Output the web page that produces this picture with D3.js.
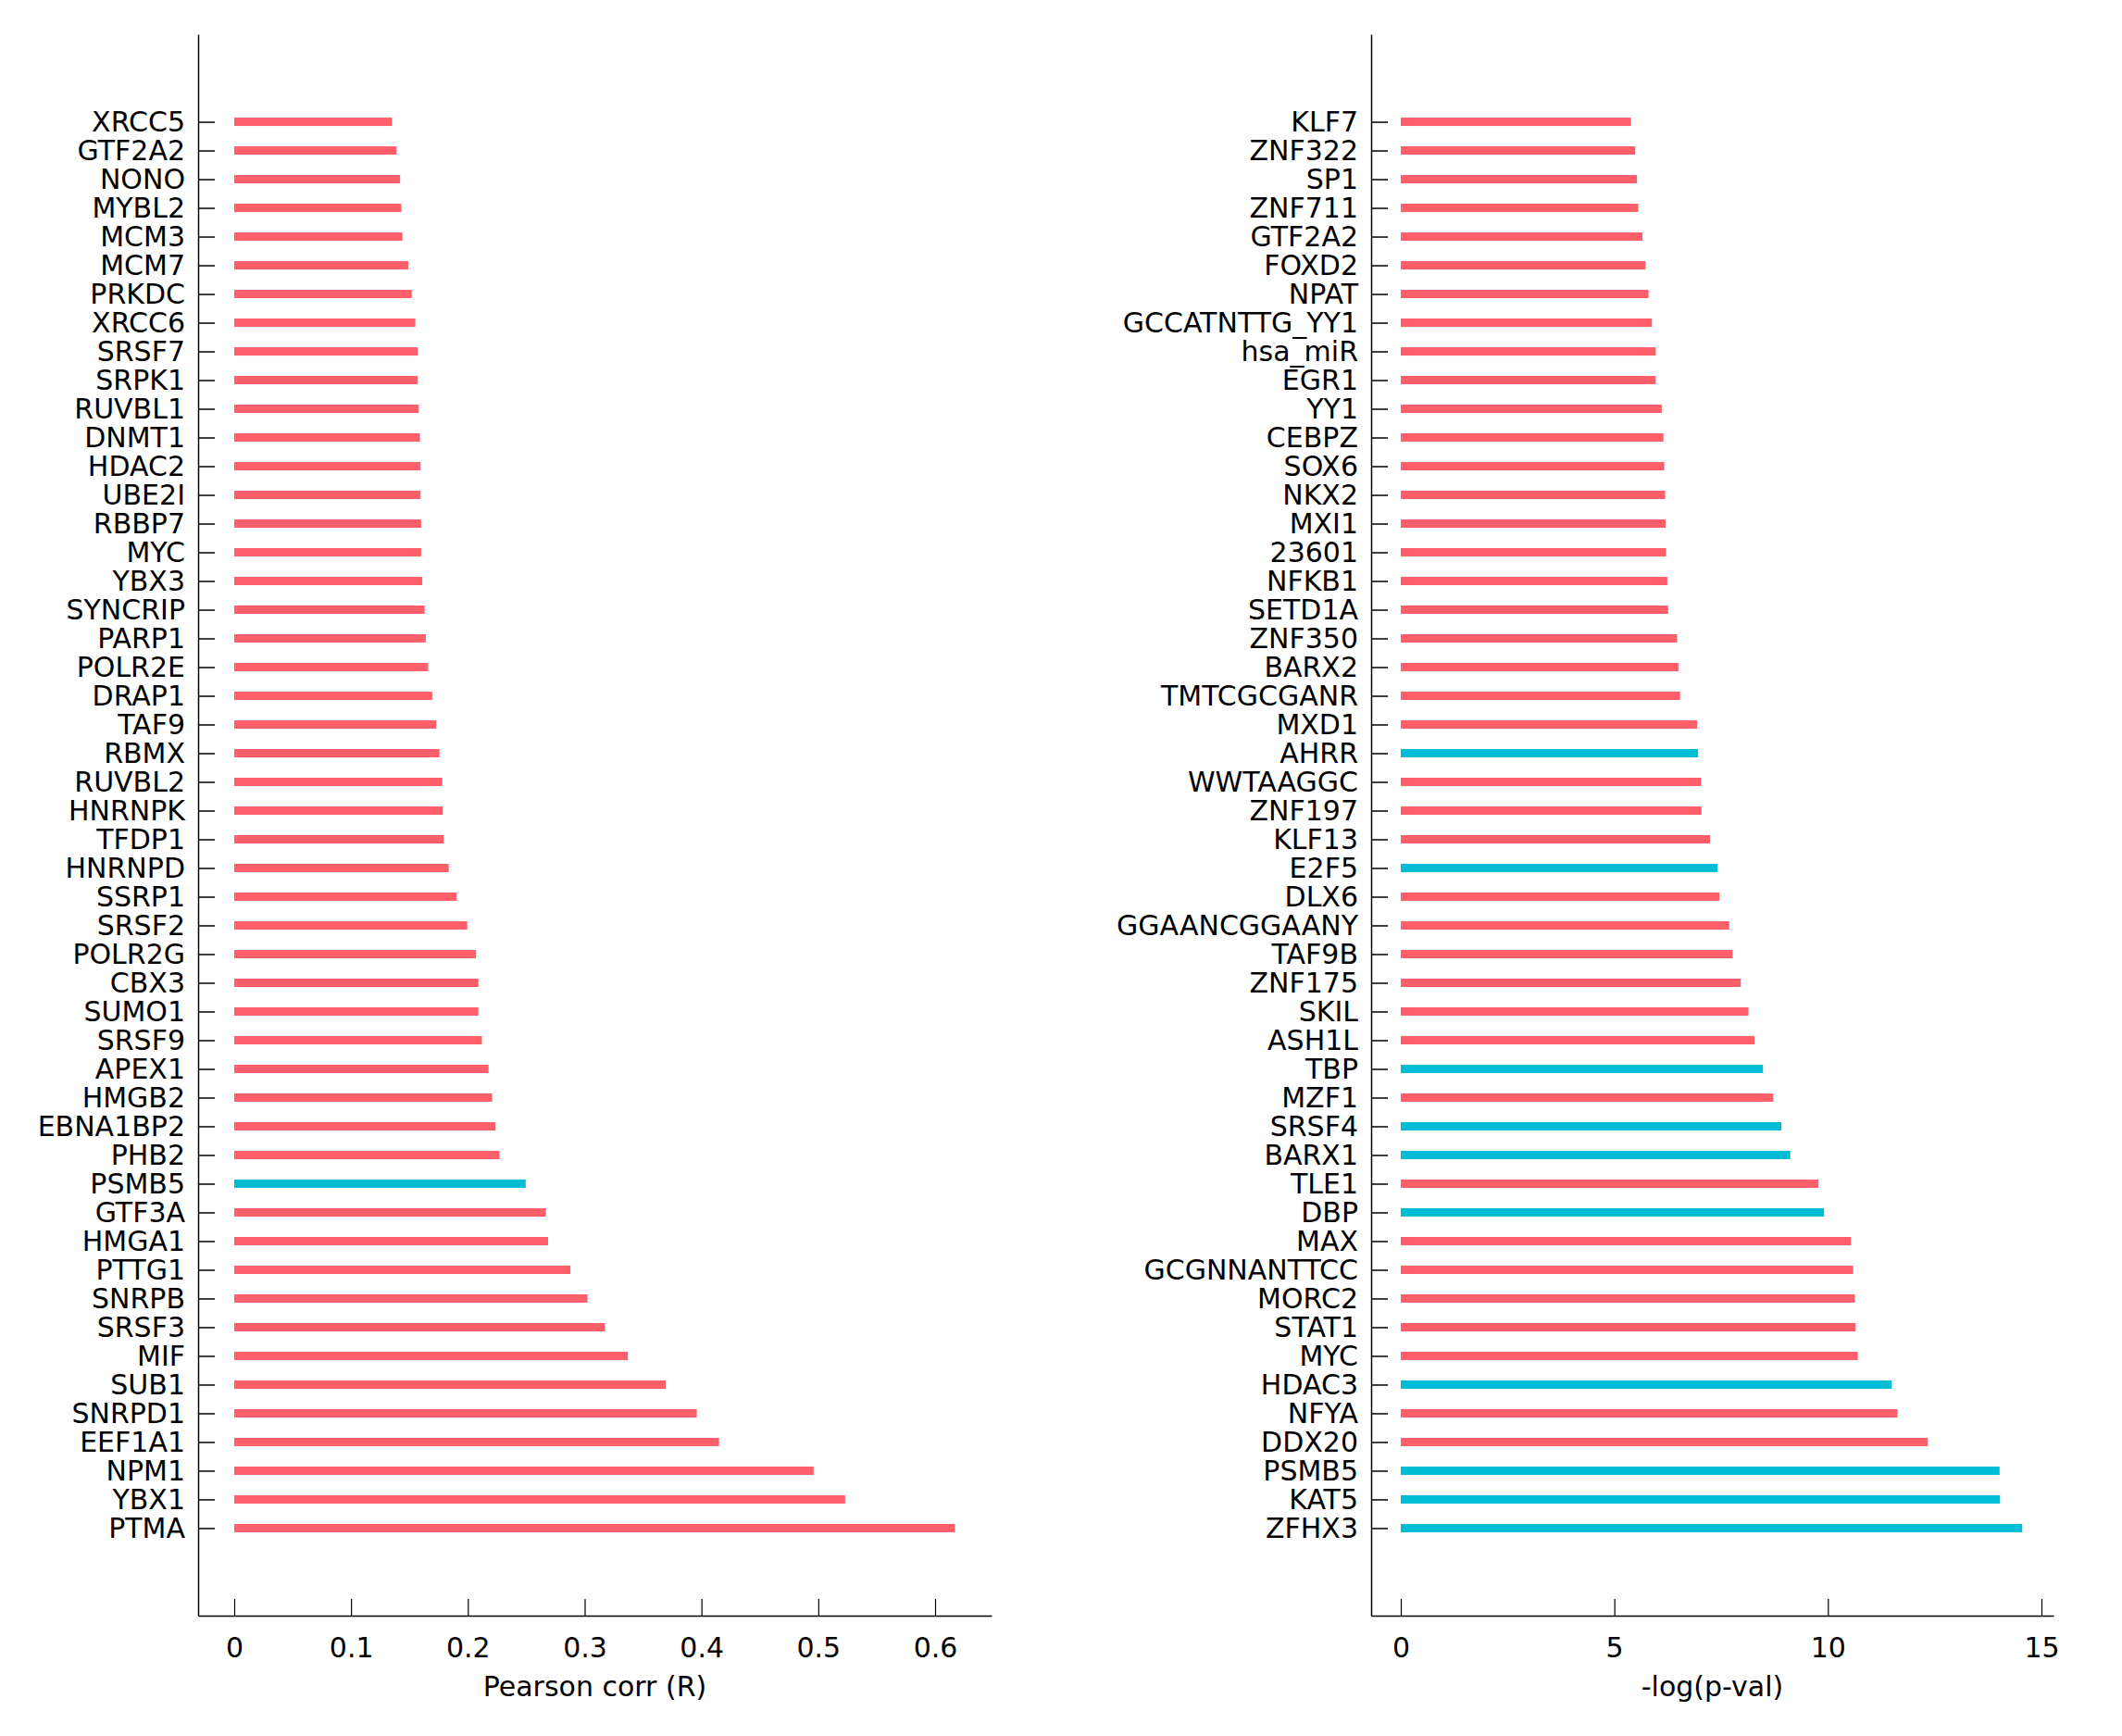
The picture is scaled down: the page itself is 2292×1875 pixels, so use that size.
<!DOCTYPE html>
<html>
<head>
<meta charset="utf-8">
<script src="https://cdn.jsdelivr.net/npm/d3@7"></script>
<style>
  html, body { margin: 0; padding: 0; background: #fff; }
  svg { display: block; }
  text { font-family: "DejaVu Sans", sans-serif; fill: #000; }
</style>
</head>
<body>
<script>
// ---------- DATA ----------
const leftLabels = ["XRCC5","GTF2A2","NONO","MYBL2","MCM3","MCM7","PRKDC","XRCC6","SRSF7","SRPK1",
  "RUVBL1","DNMT1","HDAC2","UBE2I","RBBP7","MYC","YBX3","SYNCRIP","PARP1","POLR2E",
  "DRAP1","TAF9","RBMX","RUVBL2","HNRNPK","TFDP1","HNRNPD","SSRP1","SRSF2","POLR2G",
  "CBX3","SUMO1","SRSF9","APEX1","HMGB2","EBNA1BP2","PHB2","PSMB5","GTF3A","HMGA1",
  "PTTG1","SNRPB","SRSF3","MIF","SUB1","SNRPD1","EEF1A1","NPM1","YBX1","PTMA"];
const leftValues = [0.135,0.139,0.142,0.143,0.144,0.149,0.152,0.155,0.157,0.157,
  0.158,0.159,0.1595,0.1595,0.160,0.160,0.161,0.163,0.164,0.166,
  0.1695,0.173,0.1757,0.178,0.1786,0.1794,0.1836,0.1905,0.1995,0.207,
  0.209,0.209,0.212,0.2177,0.2208,0.2236,0.2272,0.2495,0.2668,0.2687,
  0.2878,0.3024,0.3174,0.337,0.3694,0.396,0.415,0.496,0.523,0.617];
const leftGroups = ["r","r","r","r","r","r","r","r","r","r",
  "r","r","r","r","r","r","r","r","r","r",
  "r","r","r","r","r","r","r","r","r","r",
  "r","r","r","r","r","r","r","c","r","r",
  "r","r","r","r","r","r","r","r","r","r"];

const rightLabels = ["KLF7","ZNF322","SP1","ZNF711","GTF2A2","FOXD2","NPAT","GCCATNTTG_YY1","hsa_miR","EGR1",
  "YY1","CEBPZ","SOX6","NKX2","MXI1","23601","NFKB1","SETD1A","ZNF350","BARX2",
  "TMTCGCGANR","MXD1","AHRR","WWTAAGGC","ZNF197","KLF13","E2F5","DLX6","GGAANCGGAANY","TAF9B",
  "ZNF175","SKIL","ASH1L","TBP","MZF1","SRSF4","BARX1","TLE1","DBP","MAX",
  "GCGNNANTTCC","MORC2","STAT1","MYC","HDAC3","NFYA","DDX20","PSMB5","KAT5","ZFHX3"];
const rightValues = [5.39,5.49,5.53,5.56,5.66,5.73,5.80,5.88,5.97,5.97,
  6.11,6.15,6.17,6.19,6.20,6.21,6.24,6.26,6.47,6.50,
  6.54,6.94,6.96,7.03,7.04,7.24,7.42,7.46,7.69,7.77,
  7.96,8.14,8.28,8.48,8.72,8.91,9.12,9.78,9.91,10.54,
  10.59,10.63,10.65,10.70,11.49,11.63,12.34,14.02,14.03,14.55];
const rightGroups = ["r","r","r","r","r","r","r","r","r","r",
  "r","r","r","r","r","r","r","r","r","r",
  "r","r","c","r","r","r","c","r","r","r",
  "r","r","r","c","r","c","c","r","c","r",
  "r","r","r","r","c","r","r","c","c","c"];

const leftTicks = [0, 0.1, 0.2, 0.3, 0.4, 0.5, 0.6];
const leftTickLabels = ["0","0.1","0.2","0.3","0.4","0.5","0.6"];
const rightTicks = [0, 5, 10, 15];
const rightTickLabels = ["0","5","10","15"];

const leftTitle = "Pearson corr (R)";
const rightTitle = "-log(p-val)";

// ---------- STYLE / LAYOUT ----------
const W = 2292, H = 1875;
const colors = { r: "#FF5E6B", c: "#00BCD5" };
const FONT = 30;
const yTop = 37, yBottom = 1745;

const svg = d3.select("body").append("svg")
  .attr("width", W).attr("height", H);

function panel(cfg) {
  const n = cfg.labels.length;
  // y: index-based linear scale with 3 units of padding above/below
  const y = d3.scaleLinear().domain([-3.05, n + 2.05]).range([yTop, yBottom]);
  // x: anchor two tick positions, then extend domain to axis ends
  const x0 = d3.scaleLinear().domain([cfg.t0, cfg.t1]).range([cfg.p0, cfg.p1]);
  const x = d3.scaleLinear().domain([x0.invert(cfg.axL), x0.invert(cfg.axR)]).range([cfg.axL, cfg.axR]);

  const g = svg.append("g");

  // bars
  g.selectAll("rect.bar").data(cfg.values).join("rect")
    .attr("class", "bar")
    .attr("x", x(0))
    .attr("y", (d, i) => y(i) - 4.5)
    .attr("width", d => x(d) - x(0))
    .attr("height", 9)
    .attr("fill", (d, i) => colors[cfg.groups[i]]);

  // y axis
  const yAxis = d3.axisLeft(y)
    .tickValues(d3.range(n))
    .tickFormat(i => cfg.labels[i])
    .tickSizeInner(-18).tickSizeOuter(0).tickPadding(14);
  const ya = g.append("g").attr("transform", `translate(${cfg.axL},0)`).call(yAxis);
  ya.selectAll("text").style("font-size", FONT + "px").style("font-family", "DejaVu Sans");
  ya.selectAll("line").attr("stroke", "#000").attr("stroke-width", 1.5);
  ya.select(".domain").attr("stroke", "#000").attr("stroke-width", 1.5);

  // x axis
  const xAxis = d3.axisBottom(x)
    .tickValues(cfg.ticks)
    .tickFormat((d, i) => cfg.tickLabels[i])
    .tickSizeInner(-18).tickSizeOuter(0).tickPadding(24);
  const xa = g.append("g").attr("transform", `translate(0,${yBottom})`).call(xAxis);
  xa.selectAll("text").style("font-size", FONT + "px").style("font-family", "DejaVu Sans");
  xa.selectAll("line").attr("stroke", "#000").attr("stroke-width", 1.2);
  xa.select(".domain").attr("stroke", "#000").attr("stroke-width", 1.5);

  // title
  g.append("text")
    .attr("x", (cfg.axL + cfg.axR) / 2)
    .attr("y", 1832)
    .attr("text-anchor", "middle")
    .style("font-size", FONT + "px")
    .text(cfg.title);
}

panel({ labels: leftLabels, values: leftValues, groups: leftGroups,
  ticks: leftTicks, tickLabels: leftTickLabels, title: leftTitle,
  t0: 0, t1: 0.6, p0: 253, p1: 1010, axL: 214, axR: 1071 });

panel({ labels: rightLabels, values: rightValues, groups: rightGroups,
  ticks: rightTicks, tickLabels: rightTickLabels, title: rightTitle,
  t0: 0, t1: 15, p0: 1513, p1: 2205, axL: 1481, axR: 2218 });
</script>
</body>
</html>
